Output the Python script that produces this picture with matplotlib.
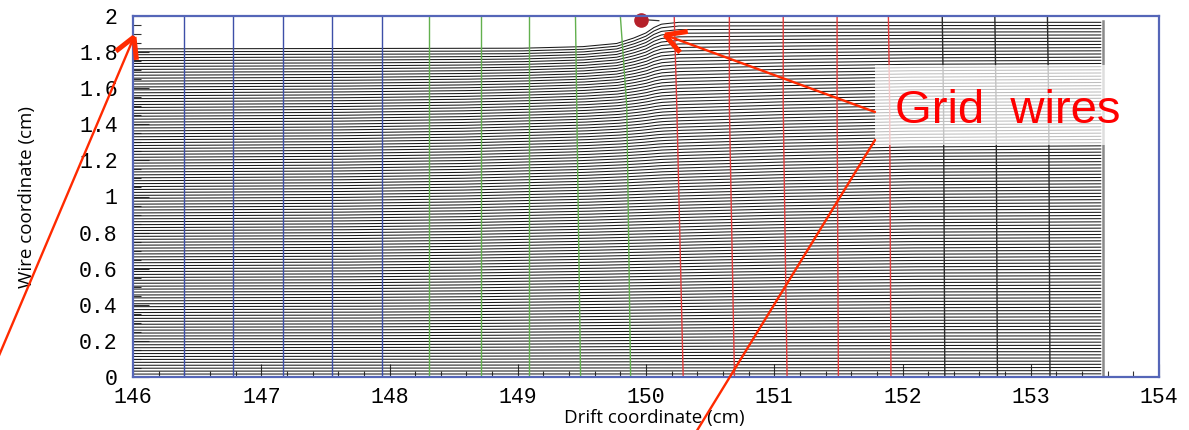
import numpy as np
import matplotlib
matplotlib.use("Agg")
import matplotlib.pyplot as plt
from matplotlib.ticker import MultipleLocator, FixedLocator
from matplotlib.lines import Line2D
from matplotlib.patches import Rectangle

# ---------------- data ----------------
x_ticks = [146, 147, 148, 149, 150, 151, 152, 153, 154]
y_ticks = [0, 0.2, 0.4, 0.6, 0.8, 1.0, 1.2, 1.4, 1.6, 1.8, 2.0]
y_tick_labels = ["0", "0.2", "0.4", "0.6", "0.8", "1", "1.2", "1.4", "1.6", "1.8", "2"]

# drift lines: evenly spaced family, compressed on the left, spread on the right
n_drift_lines = 113
drift_left_top = 1.818
drift_right_top = 1.965
drift_x_start = 146.0
drift_x_end = 153.55

# shape of the bend of the top-most drift line near the wire (0 = left level, 1 = right level)
sharp_profile_x = [146.0, 149.0, 149.5, 149.77, 149.9, 150.0, 150.06, 150.12, 150.25, 153.55]
sharp_profile_s = [0.0, 0.02, 0.08, 0.20, 0.40, 0.60, 0.80, 0.93, 1.00, 1.00]
# shape of the gentle bend of the low drift lines
broad_profile_x = [146.0, 147.5, 148.5, 149.5, 150.2, 151.0, 152.0, 153.55]
broad_profile_s = [0.0, 0.05, 0.15, 0.35, 0.55, 0.75, 0.92, 1.00]

# isochrones (x position at y = 0, 1.5 and 2.0)
iso_x_y0 = [146.40, 146.78, 147.17, 147.55, 147.94,
            148.31, 148.71, 149.09, 149.49, 149.88,
            150.29, 150.69, 151.10, 151.50, 151.91,
            152.33, 152.74, 153.15]
iso_x_y15 = [146.40, 146.78, 147.17, 147.55, 147.94,
             148.31, 148.71, 149.09, 149.46, 149.85,
             150.24, 150.65, 151.07, 151.49, 151.90,
             152.32, 152.73, 153.14]
iso_x_y2 = [146.40, 146.78, 147.17, 147.55, 147.94,
            148.31, 148.71, 149.09, 149.45, 149.80,
            150.22, 150.65, 151.07, 151.49, 151.89,
            152.31, 152.72, 153.13]
iso_group = ["blue"] * 5 + ["green"] * 5 + ["red"] * 5 + ["black"] * 3

wire_x = 149.96
wire_y = 1.978

# ---------------- figure ----------------
W, H = 1189, 430
fig = plt.figure(figsize=(W / 100, H / 100), dpi=100)
ax_l, ax_r, ax_t, ax_b = 133, 1159, 16, 377
ax = fig.add_axes([ax_l / W, 1 - ax_b / H, (ax_r - ax_l) / W, (ax_b - ax_t) / H])
ax.set_xlim(146, 154)
ax.set_ylim(0, 2)

# drift lines
xs = np.linspace(drift_x_start, drift_x_end, 1200)
s_sharp = np.interp(xs, sharp_profile_x, sharp_profile_s)
s_broad = np.interp(xs, broad_profile_x, broad_profile_s)
for i in range(n_drift_lines):
    f = i / (n_drift_lines - 1)
    w = f ** 5
    s = w * s_sharp + (1 - w) * s_broad
    y = f * drift_left_top + (f * drift_right_top - f * drift_left_top) * s
    ax.plot(xs, y, color="#1a1a1a", lw=0.75, zorder=2, solid_capstyle="butt")

# tiny line ending on the wire
ax.plot([150.02, 150.10], [wire_y, wire_y - 0.004], color="#333333", lw=0.9, zorder=2)

# end of drift region
ax.plot([drift_x_end + 0.01, drift_x_end + 0.01], [0, 1.975], color="#8a8a8a", lw=1.8, zorder=3)

# isochrones
iso_colors = {"blue": "#3d4fa8", "green": "#62b04e", "red": "#e23c3c", "black": "#2a2a2a"}
for x0, x15, x2, g in zip(iso_x_y0, iso_x_y15, iso_x_y2, iso_group):
    ax.plot([x0, x15, x2], [0, 1.5, 2.0], color=iso_colors[g], lw=1.0, zorder=3)

# wire
ax.plot([wire_x], [wire_y], "o", color="#b5202a", markersize=9.5, zorder=6, clip_on=False)

# axes styling
for sp in ax.spines.values():
    sp.set_color("#5566b8")
    sp.set_linewidth(1.6)
    sp.set_zorder(7)
ax.xaxis.set_major_locator(FixedLocator(x_ticks))
ax.xaxis.set_minor_locator(MultipleLocator(0.2))
ax.yaxis.set_major_locator(FixedLocator(y_ticks))
ax.yaxis.set_minor_locator(MultipleLocator(0.05))
ax.set_yticklabels(y_tick_labels)
ax.set_xticklabels([str(v) for v in x_ticks])
mono = {"family": "Liberation Mono", "size": 15.5}
for lab in ax.get_xticklabels() + ax.get_yticklabels():
    lab.set_fontfamily("Liberation Mono")
    lab.set_fontsize(15.5)
ax.tick_params(axis="x", which="major", direction="in", length=9.5, width=0.8, color="#333333", pad=7)
ax.tick_params(axis="x", which="minor", direction="in", length=4.5, width=0.8, color="#333333")
ax.tick_params(axis="y", which="major", direction="in", length=11.5, width=0.8, color="#333333", pad=11)
ax.tick_params(axis="y", which="minor", direction="in", length=6, width=0.8, color="#333333")
ax.tick_params(top=False, right=False)

ax.set_xlabel("Drift coordinate (cm)", fontfamily="Open Sans", fontsize=13.5, va="center")
ax.xaxis.set_label_coords((654 - ax_l) / (ax_r - ax_l), (ax_b - 418) / (ax_b - ax_t))
ax.set_ylabel("Wire coordinate (cm)", fontfamily="Open Sans", fontsize=13.5, va="center")
ax.yaxis.set_label_coords((27 - ax_l) / (ax_r - ax_l), 0.5)


# ---------------- annotations (pixel coordinates of the picture) ----------------
def fx(px):
    return px / W


def fy(py):
    return 1 - py / H


box = Rectangle((fx(875), fy(145)), (1105 - 875) / W, (145 - 65) / H, transform=fig.transFigure,
                facecolor="white", edgecolor="none", alpha=0.72, zorder=8)
fig.add_artist(box)
fig.text(fx(895), fy(123), "Grid  wires", fontfamily="Liberation Sans", fontsize=34, color="#ff0000",
         ha="left", va="baseline", zorder=9)

red = "#ff2a00"


def shaft(p0, p1, lw=1.7):
    fig.add_artist(Line2D([fx(p0[0]), fx(p1[0])], [fy(p0[1]), fy(p1[1])], transform=fig.transFigure,
                          color=red, lw=lw, zorder=9, solid_capstyle="round"))


def head(tip, tail, length=23, ang=29):
    d = np.array(tail, float) - np.array(tip, float)
    d /= np.hypot(*d)
    for a in (ang, -ang):
        r = np.deg2rad(a)
        rd = np.array([d[0] * np.cos(r) - d[1] * np.sin(r), d[0] * np.sin(r) + d[1] * np.cos(r)])
        end = np.array(tip) + rd * length
        fig.add_artist(Line2D([fx(tip[0]), fx(end[0])], [fy(tip[1]), fy(end[1])], transform=fig.transFigure,
                              color=red, lw=3.6, zorder=9, solid_capstyle="butt"))


shaft((875, 112), (665, 35))
head((665, 35), (875, 112))
shaft((875, 140), (690, 442))
shaft((-5, 365), (134, 37))
head((134, 37), (-5, 365))

fig.savefig("out.png", dpi=100)
